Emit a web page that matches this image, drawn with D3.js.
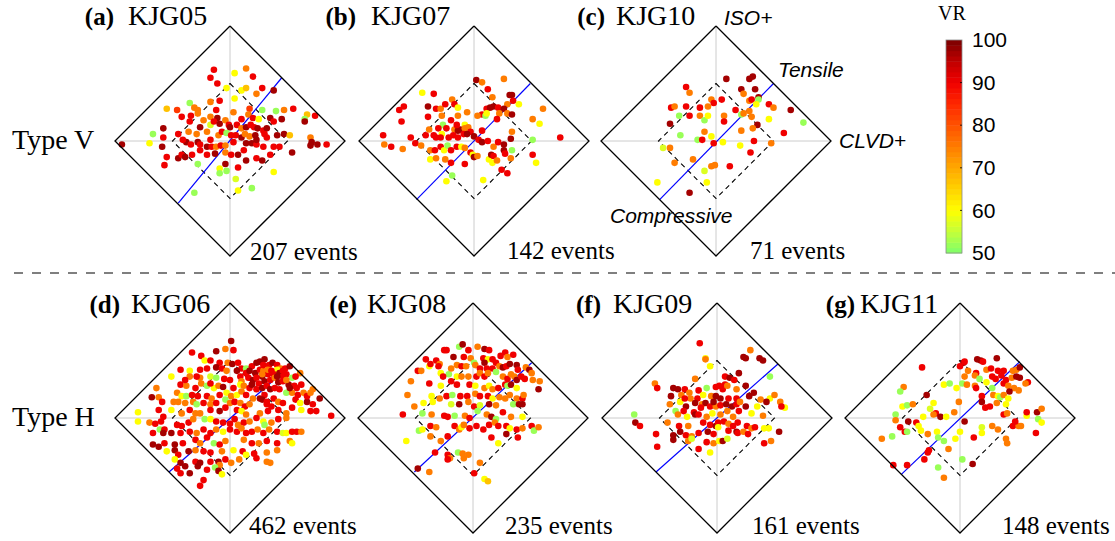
<!DOCTYPE html>
<html><head><meta charset="utf-8">
<script src="https://cdn.jsdelivr.net/npm/d3@7"></script>
<style>body{margin:0;background:#fff}svg{display:block}</style>
</head><body><svg id="c" width="1115" height="541"></svg>
<script>
// ---------------- data ----------------
const stations = ["KJG05","KJG07","KJG10","KJG06","KJG08","KJG09","KJG11"];
const letters = ["(a)","(b)","(c)","(d)","(e)","(f)","(g)"];
const eventCounts = [207,142,71,462,235,161,148];
const rowLabels = ["Type V","Type H"];
const vrTicks = [50,60,70,80,90,100];
const vrStops = [50,55,60,65,70,75,80,85,90,95,100];
const vrColors = ["#7dff6b","#c4ff3a","#ffff00","#ffd200","#ffa800","#ff7c00","#ff5200","#ff2800","#f00000","#c00000","#7a0000"];
// tensile-compressive line end points (T, k in %)
const blueLines = [
 [[-45,-54],[45,55]], [[-50,-51],[49,50]], [[-49,-51],[50,50]],
 [[-53,-47],[54,47]], [[-51,-47],[51,48]], [[-53,-47],[53,47]], [[-51,-49],[52,49]]
];
// events: [T(%), k(%), VR]
const ptsA = [[-94,-3,97],[-14,62,90],[4,59,60],[14,63,75],[-17,55,90],[20,56,90],[-11,50,90],[-3,46,60],[10,44,60],[14,46,67],[28,46,90],[38,44,97],[23,41,75],[4,37,60],[-17,34,75],[-35,33,52],[-31,29,75],[-55,28,67],[-46,27,83],[-28,27,75],[-12,27,90],[3,25,75],[28,27,52],[17,28,83],[40,26,52],[47,27,75],[55,28,90],[67,23,67],[74,22,90],[65,19,52],[65,17,97],[-34,22,90],[-28,24,75],[-17,21,75],[-11,20,97],[16,23,75],[20,20,90],[25,19,60],[35,20,97],[38,17,90],[45,19,97],[-58,11,97],[-67,6,52],[-35,17,90],[-26,12,97],[-17,14,57],[-14,17,90],[-9,15,97],[-4,18,75],[-1,14,90],[6,14,90],[10,11,75],[14,12,97],[18,14,90],[21,12,90],[24,11,97],[29,9,90],[32,11,97],[-45,6,90],[-36,8,75],[-29,6,75],[-20,8,75],[-10,5,75],[-7,8,90],[-3,7,52],[1,5,90],[5,5,90],[10,3,97],[13,6,75],[17,4,75],[22,5,97],[30,6,90],[32,3,90],[41,5,97],[47,6,97],[52,5,67],[-58,3,90],[-70,-2,60],[-59,-5,97],[-38,-1,97],[-34,-3,90],[-28,-1,97],[-26,-3,90],[-20,-5,97],[-16,-5,90],[-12,-5,75],[-8,-4,90],[-4,-4,75],[3,-1,90],[14,-2,97],[19,-2,97],[23,-3,90],[29,-5,90],[38,-5,90],[43,-5,90],[70,3,75],[71,-1,97],[76,-3,97],[70,-4,97],[84,-3,90],[54,-10,97],[-55,-14,90],[-57,-21,90],[-45,-15,97],[-42,-12,90],[-39,-14,97],[-33,-12,90],[-28,-20,52],[-20,-12,90],[-13,-11,97],[-4,-10,75],[1,-12,90],[7,-12,97],[14,-17,97],[23,-15,90],[28,-17,97],[-4,-20,97],[-9,-24,60],[-3,-26,52],[-9,-28,52],[7,-23,90],[38,-27,60],[5,-33,57],[19,-41,52],[7,-43,60],[-31,-45,52],[-23,18,75],[0,12,97],[10,19,90],[-41,1,90],[-17,1,90],[12,-8,90],[35,-12,90],[-26,-8,90],[-42,21,90],[-9,35,90],[23,1,97]];
const ptsB = [[2,53,97],[7,51,75],[26,54,75],[12,45,90],[-45,42,60],[-35,41,90],[16,38,75],[31,40,97],[33,40,97],[29,32,75],[34,35,90],[39,32,60],[-61,30,90],[-65,27,90],[-40,30,97],[-19,36,75],[-17,32,90],[-14,29,60],[-33,28,90],[-29,28,75],[-25,32,90],[-6,25,75],[11,28,90],[14,29,97],[17,30,97],[21,29,90],[26,28,97],[7,23,90],[10,22,52],[11,24,60],[22,24,75],[29,24,75],[33,23,97],[60,28,75],[51,19,75],[57,15,60],[-40,21,90],[-63,17,90],[-28,22,75],[-14,22,75],[-27,14,52],[-8,14,60],[-31,11,90],[-39,10,75],[-24,11,90],[-17,10,75],[-14,9,97],[-12,10,97],[-8,11,75],[-5,12,75],[-3,8,90],[-9,6,90],[-6,6,97],[-42,5,90],[-35,5,90],[-28,6,60],[-29,3,90],[-22,3,90],[-18,5,90],[-14,3,90],[-79,5,90],[-78,-3,75],[-72,-5,90],[-62,-7,75],[-55,3,90],[-51,-2,90],[-46,-4,75],[0,4,97],[4,1,90],[7,-1,97],[12,0,90],[17,-5,75],[21,-1,90],[26,-3,97],[32,2,97],[33,8,75],[51,1,52],[75,3,90],[-38,-8,75],[-34,-8,90],[-29,-5,90],[-26,-8,60],[-23,-4,52],[-20,-8,90],[-15,-5,90],[-11,-5,60],[-8,-6,75],[-3,-10,90],[-1,-12,60],[0,-14,97],[3,-13,75],[13,-16,60],[15,-12,97],[17,-13,90],[16,-19,60],[20,-17,75],[26,-8,97],[27,-11,90],[33,-8,52],[32,-15,75],[51,-12,90],[54,-19,60],[-38,-16,60],[-33,-15,75],[-25,-16,75],[-20,-19,90],[-8,-20,90],[24,-25,90],[29,-28,90],[-19,-30,52],[-24,-35,60],[8,-34,60],[-33,3,90],[-15,14,90],[-20,18,90],[20,19,90],[7,9,90],[3,22,75]];
const ptsC = [[9,54,97],[29,54,97],[32,56,97],[-26,47,90],[-23,42,75],[22,45,97],[34,45,97],[24,41,75],[5,36,90],[-4,36,75],[-2,33,90],[29,35,75],[31,36,90],[37,38,97],[37,36,52],[35,32,60],[46,32,90],[50,29,75],[65,27,97],[-39,29,90],[-36,30,75],[-26,30,90],[-14,29,90],[-7,30,75],[17,27,90],[29,26,75],[22,23,52],[24,24,75],[31,21,75],[-32,22,52],[-23,22,90],[-14,22,75],[-10,18,52],[-7,22,60],[7,22,75],[7,17,90],[-40,15,97],[46,19,60],[36,14,97],[76,16,52],[-31,5,52],[-10,8,75],[22,9,75],[32,11,75],[59,7,90],[-16,1,52],[-4,4,60],[-12,1,90],[-2,-2,90],[6,-1,60],[21,-4,60],[33,0,90],[48,-2,75],[-46,-6,57],[-40,-6,75],[30,-10,90],[-36,-19,75],[-20,-16,75],[-4,-22,75],[-1,-21,75],[12,-22,90],[-10,-26,57],[-51,-36,60],[-8,-36,60],[-23,-45,97]];
const ptsD = [[1,67,97],[-4,60,75],[-12,58,97],[3,59,90],[-33,57,90],[-25,54,90],[-22,50,60],[-17,50,90],[-9,48,90],[-2,48,75],[2,47,97],[7,48,90],[10,43,90],[14,43,52],[19,45,90],[23,48,97],[26,49,97],[30,51,97],[34,46,90],[37,48,97],[41,46,90],[44,43,75],[48,43,90],[52,45,97],[61,39,75],[41,42,60],[-43,42,90],[-35,41,60],[-26,42,90],[-20,43,90],[-12,44,97],[-7,43,90],[-3,41,75],[6,41,97],[14,39,90],[17,41,97],[22,39,97],[26,42,90],[29,41,75],[33,38,90],[38,38,90],[43,39,97],[46,36,90],[49,38,90],[54,35,52],[57,36,90],[-51,36,60],[-35,36,75],[-26,35,75],[-17,36,57],[-12,35,52],[-5,34,90],[0,33,90],[9,36,90],[10,32,75],[16,35,90],[20,33,97],[25,30,90],[28,36,97],[30,32,97],[35,33,90],[39,35,75],[42,31,97],[46,32,90],[51,29,97],[56,28,90],[62,29,90],[-43,29,90],[-38,28,75],[-30,26,90],[-25,30,75],[-20,28,52],[-14,26,60],[-10,28,75],[-6,27,97],[3,26,90],[9,29,60],[12,28,75],[17,26,90],[23,25,90],[28,26,97],[32,28,90],[35,25,97],[39,26,90],[43,25,90],[49,22,52],[54,22,75],[59,20,90],[64,22,75],[72,25,75],[-64,26,75],[-46,22,75],[-42,19,60],[-38,19,52],[-33,20,90],[-28,19,90],[-20,19,90],[-16,17,75],[-9,20,90],[-3,22,60],[1,19,75],[6,20,60],[10,23,75],[14,20,90],[20,17,75],[26,17,97],[30,20,90],[38,17,90],[42,14,75],[46,13,90],[57,16,90],[61,13,60],[67,14,97],[72,12,90],[78,17,97],[-68,18,97],[-62,18,75],[-49,14,75],[-45,14,75],[-39,13,75],[-32,14,75],[-29,12,52],[-23,13,90],[-17,12,75],[-12,13,90],[-4,16,52],[0,13,75],[4,14,90],[9,13,75],[13,10,90],[17,12,75],[32,12,90],[36,10,90],[70,6,90],[75,6,90],[88,2,90],[-80,5,60],[-80,-3,60],[-62,7,90],[-51,7,60],[-42,4,75],[-35,7,90],[-30,4,75],[-26,4,75],[-17,7,90],[-9,6,97],[-4,9,90],[6,7,90],[10,6,60],[14,3,75],[26,4,75],[33,6,90],[42,7,90],[49,4,75],[54,9,90],[62,7,60],[-70,-4,75],[-65,-5,90],[-60,-3,90],[-61,-10,52],[-57,-10,90],[-46,-6,90],[-42,-7,90],[-36,-4,90],[-32,-1,75],[-22,-1,52],[-17,-1,60],[-12,-3,90],[-6,-4,90],[0,-5,90],[4,-1,90],[7,-6,75],[12,-4,90],[17,-3,75],[23,0,90],[29,-3,60],[30,-6,52],[36,-4,75],[42,-1,90],[49,0,75],[-67,-13,90],[-58,-13,97],[-51,-13,97],[-43,-13,90],[-35,-12,90],[-29,-13,75],[-23,-10,90],[-17,-13,90],[-12,-10,75],[-6,-12,60],[0,-10,90],[6,-12,90],[10,-9,75],[14,-13,90],[19,-12,90],[24,-10,75],[29,-13,90],[34,-10,75],[41,-12,90],[46,-13,57],[49,-13,60],[54,-12,90],[58,-12,90],[62,-12,75],[-67,-23,97],[-62,-25,97],[-57,-22,90],[-48,-23,97],[-41,-22,90],[-30,-19,90],[-26,-22,75],[-20,-17,90],[-14,-22,52],[-9,-23,90],[-4,-20,75],[12,-19,75],[19,-22,90],[25,-22,75],[32,-20,90],[41,-22,90],[52,-20,75],[54,-22,60],[-55,-29,60],[-48,-28,97],[-45,-32,90],[-36,-29,97],[-30,-28,75],[-23,-29,90],[-17,-30,90],[-7,-29,75],[3,-28,60],[11,-29,90],[14,-32,60],[21,-31,90],[32,-30,75],[41,-28,75],[-48,-36,60],[-43,-39,97],[-39,-42,97],[-30,-38,90],[-28,-42,97],[-26,-39,97],[-17,-38,90],[-10,-38,97],[-9,-41,75],[-4,-36,90],[1,-39,75],[8,-36,75],[23,-35,90],[32,-38,75],[35,-39,75],[-46,-44,90],[-43,-48,90],[-35,-48,97],[-20,-45,90],[-13,-43,52],[-10,-46,97],[-7,-49,60],[-23,-54,90],[-26,-59,90],[29,46,90],[33,42,75],[46,41,90],[49,33,75],[41,36,97],[36,41,90],[28,38,75],[23,35,90],[19,29,97],[28,16,97],[32,14,90],[52,26,97],[58,26,90],[67,19,90],[70,22,75],[-58,1,90],[-39,33,90],[-29,36,90],[-17,30,90],[-59,14,90]];
const ptsE = [[-25,59,90],[-23,59,90],[-12,62,52],[-9,64,97],[-4,59,90],[4,62,75],[10,60,97],[14,59,90],[-41,51,90],[-32,50,90],[-29,47,75],[-17,53,97],[-8,53,90],[-2,52,75],[9,52,90],[13,51,60],[17,51,90],[24,54,90],[28,57,90],[30,53,75],[35,55,90],[-48,41,90],[-45,41,75],[-38,45,60],[-37,47,90],[-30,45,90],[-28,39,60],[-21,38,52],[-19,43,75],[-14,46,75],[-10,45,90],[-6,45,75],[1,48,52],[2,46,75],[6,43,90],[10,48,97],[12,43,90],[17,43,90],[20,48,90],[23,45,75],[26,44,97],[29,45,90],[32,47,97],[38,46,97],[39,42,90],[46,44,75],[49,42,97],[51,39,75],[-26,36,90],[-14,36,60],[-10,36,75],[-4,36,75],[3,36,90],[6,39,75],[10,36,90],[13,39,75],[20,40,52],[26,36,75],[30,34,90],[33,38,75],[36,36,75],[38,33,97],[42,36,90],[45,34,90],[52,33,75],[58,32,75],[57,25,97],[-54,32,75],[-38,30,90],[-28,28,60],[-19,32,90],[-14,29,90],[-3,29,90],[2,28,60],[10,26,75],[14,28,60],[17,25,75],[22,26,90],[28,29,90],[30,28,52],[33,29,97],[38,26,60],[-57,20,75],[-36,19,60],[-29,17,75],[-23,19,90],[-18,20,52],[-11,19,90],[-5,19,90],[2,21,75],[6,19,90],[13,19,90],[17,17,60],[23,18,75],[28,17,75],[32,20,75],[38,17,75],[43,17,90],[44,20,75],[-51,10,75],[-43,13,60],[-35,14,60],[-19,12,57],[-12,12,97],[-4,14,75],[1,10,90],[6,11,57],[14,12,97],[20,11,75],[35,12,52],[40,12,97],[43,12,97],[-61,3,90],[-44,4,52],[-36,3,75],[-25,2,90],[-22,1,90],[-16,2,52],[-7,2,75],[-3,0,90],[4,6,52],[12,3,75],[16,1,97],[20,-1,52],[26,5,90],[33,1,75],[43,1,60],[-47,-11,52],[-44,-10,60],[-37,-7,90],[-32,-8,75],[-16,-7,90],[-12,-10,75],[-10,-8,60],[-8,-6,75],[-3,-9,90],[3,-7,90],[9,-10,90],[14,-6,90],[19,-4,75],[22,-7,90],[29,-7,90],[32,-9,60],[38,-10,90],[43,-9,75],[51,-7,90],[53,-11,52],[57,-8,75],[-58,-20,60],[-37,-16,75],[-28,-20,75],[-22,-16,90],[16,-17,90],[22,-22,60],[29,-14,97],[39,-17,90],[-33,-30,90],[-22,-32,90],[-20,-35,75],[-13,-30,52],[-9,-31,75],[-4,-32,75],[-8,-35,75],[-22,-36,90],[6,-39,75],[1,-48,90],[-48,-44,97],[-38,-47,75],[10,-53,60],[13,-55,67]];
const ptsF = [[-15,65,90],[29,59,75],[-10,52,60],[-10,51,75],[23,53,97],[25,52,97],[37,52,97],[40,50,97],[-6,45,60],[19,39,97],[46,36,52],[-54,30,75],[-52,26,90],[-19,34,75],[7,36,90],[11,35,97],[15,33,90],[-38,26,97],[-34,25,97],[-28,25,90],[-24,22,75],[-16,24,90],[-9,26,52],[-1,27,90],[2,28,90],[5,25,90],[7,29,90],[9,28,75],[17,25,75],[25,28,97],[32,22,97],[-40,19,97],[-31,20,75],[-23,17,75],[-17,17,90],[-12,20,60],[-5,19,75],[-1,19,97],[3,17,97],[10,17,90],[17,17,90],[28,19,97],[38,16,75],[46,17,60],[50,20,75],[43,14,97],[55,14,75],[59,9,60],[56,10,90],[-41,12,75],[-32,14,60],[-27,10,97],[-19,13,97],[-13,12,75],[-10,13,97],[-6,10,90],[-1,10,75],[3,11,90],[8,12,97],[13,10,97],[17,12,90],[25,10,97],[35,10,60],[-36,6,52],[-34,3,75],[-26,1,60],[-20,5,90],[-19,3,97],[-16,3,90],[-9,1,75],[-4,4,60],[3,3,75],[9,6,75],[14,1,75],[19,6,90],[30,4,60],[40,2,75],[-72,3,52],[-71,-4,97],[-67,-7,90],[-43,-4,75],[-33,-7,90],[-25,-7,75],[-12,-4,90],[-6,-6,90],[-1,-7,97],[1,-4,90],[6,-3,90],[10,-5,75],[14,-7,90],[18,-4,90],[26,-7,90],[30,-9,75],[33,-8,90],[41,-9,60],[45,-9,60],[-53,-14,90],[-38,-15,97],[-32,-12,97],[-27,-15,90],[-22,-16,75],[-16,-13,90],[-8,-12,97],[-3,-14,90],[1,-8,60],[10,-11,90],[17,-12,97],[18,-13,90],[23,-12,75],[27,-14,90],[54,-12,97],[-38,-19,97],[-25,-20,75],[-22,-18,57],[-16,-27,90],[-9,-21,90],[-3,-22,75],[2,-20,60],[5,-20,97],[9,-18,57],[41,-22,90],[47,-20,75],[-52,-25,90],[-6,-30,60],[-29,6,90],[-14,9,90],[-3,14,97],[20,14,75],[-28,17,90]];
const ptsG = [[3,48,97],[4,49,90],[0,45,90],[15,51,97],[18,50,97],[20,49,90],[32,52,97],[-33,44,90],[7,41,75],[14,39,90],[23,42,75],[27,43,90],[33,41,90],[38,41,90],[46,41,75],[49,42,75],[52,44,97],[13,37,75],[17,34,52],[23,31,60],[28,36,90],[31,34,90],[36,37,90],[40,33,90],[45,35,75],[49,36,97],[52,35,97],[59,31,90],[57,30,75],[4,36,75],[2,30,52],[6,29,75],[-14,29,60],[-9,30,52],[-3,26,60],[-49,27,75],[-52,23,52],[-29,20,97],[13,28,75],[14,26,90],[28,26,52],[38,30,90],[42,28,75],[47,26,75],[43,23,97],[51,24,75],[29,20,75],[33,19,60],[35,18,52],[38,20,75],[42,17,60],[19,19,90],[19,14,97],[22,9,90],[26,10,90],[32,13,75],[40,12,60],[38,3,90],[41,4,75],[-1,14,75],[-23,13,60],[-50,10,60],[-46,11,52],[-41,12,75],[-26,8,57],[-21,4,90],[-17,1,97],[-23,3,75],[-12,1,60],[-5,5,75],[-32,1,60],[-56,3,52],[-56,-2,75],[-45,-3,97],[-38,-4,90],[-36,-7,60],[-52,-8,90],[-48,-12,90],[-46,-12,52],[-34,-11,60],[-28,-14,75],[-20,-12,60],[-19,-17,52],[-14,-20,52],[-4,-18,60],[0,-12,60],[4,-3,97],[12,-17,90],[19,-8,57],[19,-13,60],[28,-7,75],[33,-10,75],[40,-18,75],[41,-22,75],[46,-7,90],[51,-7,75],[53,-7,75],[48,-3,90],[58,2,60],[58,5,90],[67,5,97],[71,8,75],[68,-1,52],[71,-4,60],[66,-13,90],[-68,-18,75],[-59,-16,52],[-27,-28,90],[-28,-30,90],[-31,-36,90],[-10,-27,75],[-58,-41,90],[-46,-41,90],[-19,-43,52],[2,-36,52],[11,-40,97],[-14,-52,75]];
const datasets = [ptsA,ptsB,ptsC,ptsD,ptsE,ptsF,ptsG];

// ---------------- layout ----------------
const H = 115;
const layout = [
 {cx:230,cy:141,lx:114,tx:128,ty:25,ex:250,ey:260},
 {cx:474,cy:141,lx:356,tx:371,ty:25,ex:507,ey:259},
 {cx:716,cy:141,lx:605,tx:616,ty:25,ex:750,ey:259},
 {cx:230,cy:418,lx:120,tx:131,ty:313,ex:249,ey:534},
 {cx:473,cy:418,lx:357,tx:367,ty:313,ex:505,ey:534},
 {cx:717,cy:418,lx:601,tx:613,ty:313,ex:752,ey:534},
 {cx:960,cy:418,lx:855,tx:860,ty:313,ex:1002,ey:534}
];
const serif = "'Liberation Serif','Times New Roman',serif";
const sans = "'Liberation Sans',Arial,sans-serif";

const svg = d3.select("#c");
const color = d3.scaleLinear().domain(vrStops).range(vrColors).clamp(true);

layout.forEach((L,i)=>{
  const x = d3.scaleLinear().domain([-100,100]).range([L.cx-H,L.cx+H]);
  const y = d3.scaleLinear().domain([-100,100]).range([L.cy+H,L.cy-H]);
  const line = d3.line().x(d=>x(d[0])).y(d=>y(d[1]));
  const g = svg.append("g");
  g.append("line").attr("x1",x(-100)).attr("x2",x(100)).attr("y1",y(0)).attr("y2",y(0)).attr("stroke","#cccccc").attr("stroke-width",1);
  g.append("line").attr("x1",x(0)).attr("x2",x(0)).attr("y1",y(-100)).attr("y2",y(100)).attr("stroke","#cccccc").attr("stroke-width",1);
  const inner=[[0,50],[50,0],[0,-50],[-50,0],[0,50]];
  g.append("path").attr("d",line(inner)).attr("fill","none").attr("stroke","#000").attr("stroke-width",1.1).attr("stroke-dasharray","5,4");
  g.append("path").attr("d",line(blueLines[i])).attr("fill","none").attr("stroke","#0000ff").attr("stroke-width",1.2);
  g.selectAll("circle").data(datasets[i]).join("circle")
    .attr("cx",d=>x(d[0])).attr("cy",d=>y(d[1])).attr("r",3.3).attr("fill",d=>color(d[2]));
  const outer=[[0,100],[100,0],[0,-100],[-100,0],[0,100]];
  g.append("path").attr("d",line(outer)).attr("fill","none").attr("stroke","#000").attr("stroke-width",1.3);
  // labels
  g.append("text").attr("x",L.lx).attr("y",L.ty).attr("text-anchor","end").attr("font-family",serif).attr("font-weight","bold").attr("font-size",25).text(letters[i]);
  g.append("text").attr("x",L.tx).attr("y",L.ty).attr("font-family",serif).attr("font-size",28).text(stations[i]);
  g.append("text").attr("x",L.ex).attr("y",L.ey).attr("font-family",serif).attr("font-size",25).text(eventCounts[i]+" events");
});

// axis annotations (panel c)
const ann = [["ISO+",724,25],["Tensile",778,77],["CLVD+",839,148],["Compressive",610,223]];
svg.selectAll("text.ann").data(ann).join("text").attr("class","ann")
  .attr("x",d=>d[1]).attr("y",d=>d[2]).attr("font-family",sans).attr("font-style","italic").attr("font-size",21).text(d=>d[0]);

// row labels
svg.append("text").attr("x",12).attr("y",149).attr("font-family",serif).attr("font-size",28).text(rowLabels[0]);
svg.append("text").attr("x",12).attr("y",426).attr("font-family",serif).attr("font-size",28).text(rowLabels[1]);

// separator
svg.append("line").attr("x1",14).attr("x2",1115).attr("y1",273).attr("y2",273)
  .attr("stroke","#555").attr("stroke-width",1.3).attr("stroke-dasharray","9,9");

// colorbar
const cbY = d3.scaleLinear().domain([50,100]).range([253,40]);
const cbX = 946, cbW = 16;
const nb = 40, step = 50/nb;
const bands = d3.range(nb).map(k=>50+k*step);
svg.append("g").selectAll("rect").data(bands).join("rect")
  .attr("x",cbX).attr("width",cbW).attr("y",d=>cbY(d+step)).attr("height",d=>cbY(d)-cbY(d+step)+0.5)
  .attr("fill",d=>color(d+step/2));
svg.append("rect").attr("x",cbX).attr("y",cbY(100)).attr("width",cbW).attr("height",cbY(50)-cbY(100))
  .attr("fill","none").attr("stroke","#8a8a8a").attr("stroke-width",0.8);
const cbAxis = d3.axisRight(cbY).tickValues(vrTicks).tickSize(0).tickPadding(10);
const ax = svg.append("g").attr("transform",`translate(${cbX+cbW},0)`).call(cbAxis);
ax.select(".domain").remove();
ax.selectAll("text").attr("font-family",sans).attr("font-size",21).attr("fill","#000");
svg.append("g").selectAll("line").data(vrTicks.slice(1,-1)).join("line")
  .attr("x1",cbX+cbW-2).attr("x2",cbX+cbW).attr("y1",d=>cbY(d)).attr("y2",d=>cbY(d)).attr("stroke","#000").attr("stroke-width",0.8);
svg.append("text").attr("x",938).attr("y",20).attr("font-family",serif).attr("font-size",20).text("VR");
</script></body></html>
